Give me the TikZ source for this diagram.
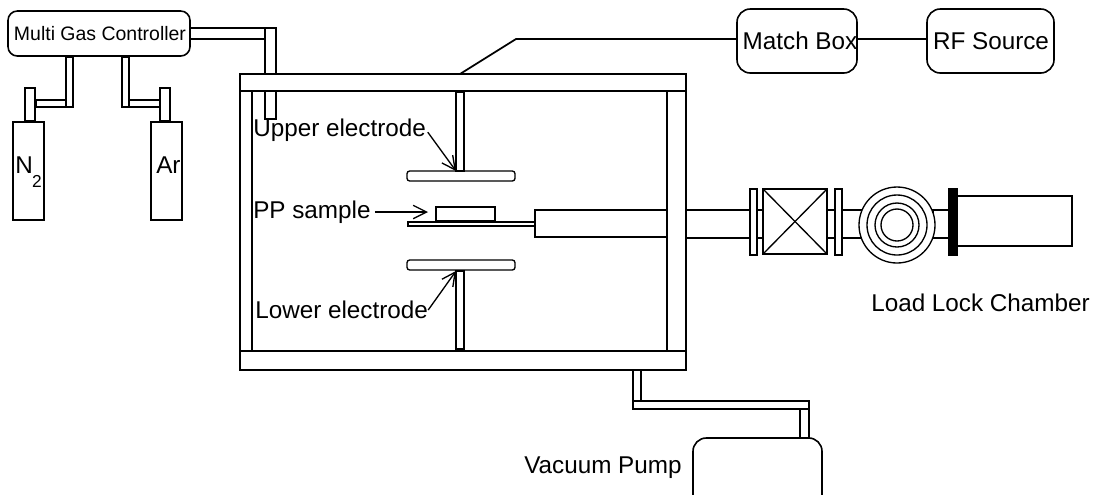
\documentclass[tikz,border=0pt]{standalone}
\usepackage{fontspec}
\setmainfont{Liberation Sans}
\usepackage{tikz}
\usetikzlibrary{arrows.meta,positioning,fit}

\begin{document}
\begin{tikzpicture}[
    x=0.75pt, y=-0.75pt,
    part/.style={draw, line width=1.2pt, inner sep=0pt, outer sep=0pt},
    thinpart/.style={part, line width=1pt},
    box/.style={part, rounded corners=10pt},
    ring/.style={circle, draw, line width=1pt, inner sep=0pt, outer sep=0pt},
    label/.style={inner sep=0pt, font=\fontsize{18.2}{21}\selectfont},
    pointer/.style={-{Straight Barb[length=10pt,width=10pt]}, line width=1pt},
    feed/.style={line width=1.3pt}
  ]
  \clip (0,0) rectangle (1094,494);

  % Gas supply
  \node[box, rounded corners=7pt, fit={(8,11) (190,56)}] (controller) {};
  \node[label, font=\fontsize{14.6}{18}\selectfont] at (100,34) (controllertext) {Multi Gas Controller};
  \node[thinpart, fit={(190,28) (265,39)}] (linetop) {};
  \node[thinpart, fit={(265,28) (276,74)}] (linedown) {};
  \node[thinpart, fit={(265,91) (276,119)}] (inlet) {};

  \node[thinpart, fit={(66,57) (73,107)}] (nleg) {};
  \node[thinpart, fit={(36,100) (66,107)}] (nrun) {};
  \node[thinpart, fit={(25,88) (35,121)}] (nvalve) {};
  \node[thinpart, fit={(13,122) (44,220)}] (ncyl) {};
  \node[label, anchor=west] at (15,165) (ntext) {N};
  \node[label, font=\fontsize{13}{15}\selectfont] at (37,181) (nsub) {2};

  \node[thinpart, fit={(122,57) (129,107)}] (arleg) {};
  \node[thinpart, fit={(129,100) (160,107)}] (arrun) {};
  \node[thinpart, fit={(160,88) (170,121)}] (arvalve) {};
  \node[thinpart, fit={(151,122) (182,220)}] (arcyl) {};
  \node[label, anchor=west] at (156,165) (artext) {Ar};

  % Chamber
  \node[part, fit={(240,74) (686,370)}] (chamber) {};
  \node[part, fit={(252,91) (667,351)}] (inner) {};
  \draw[part] (chamber.north west |- inner.north) -- (chamber.north east |- inner.north);
  \draw[part] (chamber.south west |- inner.south) -- (chamber.south east |- inner.south);

  % Electrodes and sample
  \node[thinpart, fit={(456,92) (464,171)}] (upperstem) {};
  \node[thinpart, rounded corners=2pt, fit={(407,171) (515,181)}] (upperplate) {};
  \node[thinpart, fit={(456,271) (464,349)}] (lowerstem) {};
  \node[thinpart, rounded corners=2pt, fit={(407,260) (515,270)}] (lowerplate) {};
  \node[thinpart, fit={(436,207) (495,221)}] (sample) {};
  \node[thinpart, fit={(408,222) (535,226)}] (holder) {};
  \node[thinpart, fit={(535,210) (667,237)}] (arm) {};

  \node[label, anchor=west] at (253,130) (uppertext) {Upper electrode};
  \node[label, anchor=west] at (253,212) (pptext) {PP sample};
  \node[label, anchor=west] at (255,310) (lowertext) {Lower electrode};
  \draw[pointer, shorten <=2pt] (uppertext.east) -- (upperstem.south west);
  \draw[pointer, shorten <=3pt] (pptext.east) -- ([xshift=-6pt]sample.west |- pptext.east);
  \draw[pointer] (lowertext.east) -- (lowerstem.north west);

  % Load lock line
  \node[thinpart, fit={(686,210) (750,238)}] (tubea) {};
  \node[thinpart, fit={(750,189) (757,255)}] (flangea) {};
  \node[thinpart, fit={(757,210) (763,238)}] (tubeb) {};
  \node[thinpart, fit={(763,189) (827,254)}] (gate) {};
  \draw[line width=1pt] (gate.north west) -- (gate.south east);
  \draw[line width=1pt] (gate.south west) -- (gate.north east);
  \node[thinpart, fit={(827,210) (835,238)}] (tubec) {};
  \node[thinpart, fit={(835,189) (842,255)}] (flangeb) {};
  \node[thinpart, fit={(842,210) (862,238)}] (tubed) {};
  \node[thinpart, fit={(933,210) (949,238)}] (tubee) {};
  \node[ring, fill=white, minimum size=76*0.75pt] at (897,225) (ringa) {};
  \node[ring, minimum size=60*0.75pt] at (ringa) (ringb) {};
  \node[ring, minimum size=44*0.75pt] at (ringa) (ringc) {};
  \node[ring, minimum size=32*0.75pt] at (ringa) (ringd) {};
  \node[part, fill=black, fit={(949,189) (957,255)}] (seal) {};
  \node[thinpart, fit={(957,196) (1072,246)}] (loadlock) {};
  \node[label, anchor=west] at (871,303) (loadtext) {Load Lock Chamber};

  % RF
  \node[box, fit={(737,9) (857,73)}] (matchbox) {};
  \node[box, fit={(927,9) (1054,73)}] (rfsource) {};
  \node[label] at (800,41) (matchtext) {Match Box};
  \node[label] at (991,41) (rftext) {RF Source};
  \coordinate (bend) at (516,39);
  \draw[feed] (matchbox.west |- bend) -- (bend) -- ([xshift=-2.25pt]chamber.north);
  \draw[feed] (matchbox.east |- bend) -- (rfsource.west |- bend);

  % Pump
  \node[box, fit={(693,438) (822,510)}] (pump) {};
  \node[thinpart, fit={(633,370) (641,401)}] (pumpdown) {};
  \node[thinpart, fit={(633,401) (809,409)}] (pumprun) {};
  \node[thinpart, fit={(800,409) (809,438)}] (pumpleg) {};
  \node[label, anchor=west] at (524,468) (pumptext) {Vacuum Pump};

\end{tikzpicture}
\end{document}
